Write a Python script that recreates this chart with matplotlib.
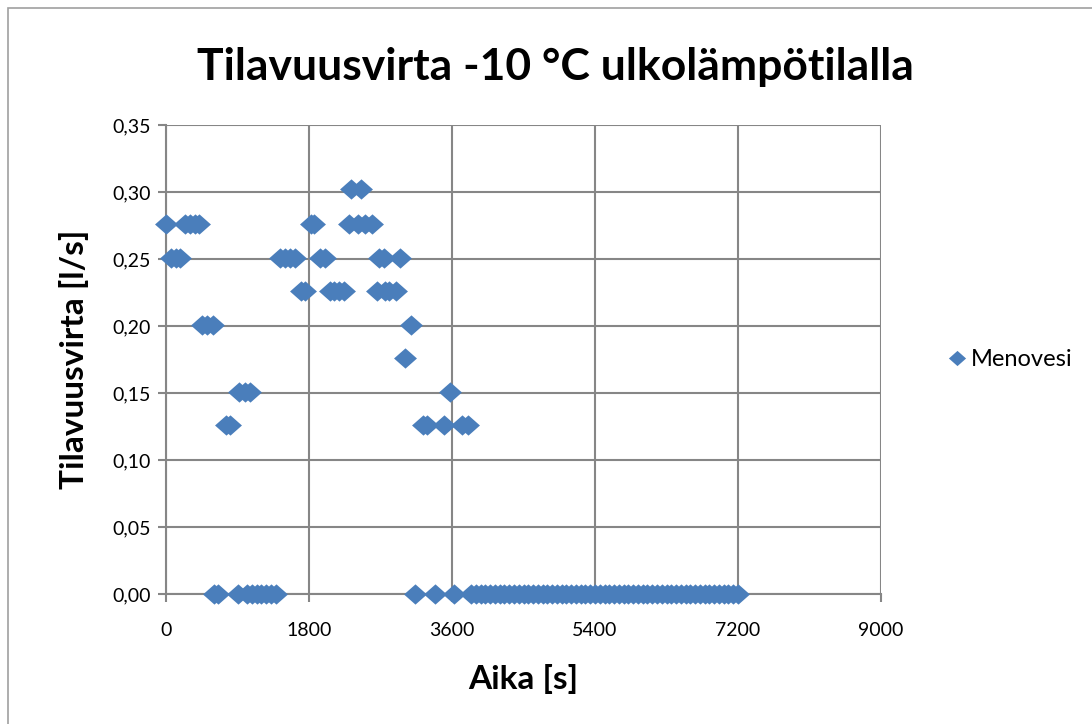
import matplotlib.pyplot as plt
from matplotlib.path import Path
from matplotlib.patches import Rectangle

plt.rcParams['font.family'] = ['Lato', 'DejaVu Sans']

# Mittausajat [s] ja menoveden tilavuusvirta [l/s]
aika = [
    0, 60, 120, 180, 240, 300, 360, 420,
    450, 520, 590, 600, 660, 750, 810, 900, 920, 990, 1060,
    1020, 1080, 1140, 1200, 1260, 1320, 1380,
    1440, 1500, 1560, 1620, 1700, 1750, 1820, 1860, 1940, 2000,
    2060, 2120, 2180, 2235, 2300, 2330, 2420, 2460, 2500, 2590,
    2660, 2680, 2750, 2760, 2810, 2890, 2940, 3010, 3080,
    3140, 3230, 3290, 3380, 3500, 3580, 3630, 3730, 3800,
    3840, 3900, 3960, 4020, 4080, 4140, 4200, 4260, 4320, 4380,
    4440, 4500, 4560, 4620, 4680, 4740, 4800, 4860, 4920, 4980,
    5040, 5100, 5160, 5220, 5280, 5340, 5400, 5460, 5520, 5580,
    5640, 5700, 5760, 5820, 5880, 5940, 6000, 6060, 6120, 6180,
    6240, 6300, 6360, 6420, 6480, 6540, 6600, 6660, 6720, 6780,
    6840, 6900, 6960, 7020, 7080, 7140, 7200,
]
virta = [
    0.276, 0.251, 0.251, 0.251, 0.276, 0.276, 0.276, 0.276,
    0.201, 0.201, 0.201, 0.0, 0.0, 0.126, 0.126, 0.0, 0.151, 0.151, 0.151,
    0.0, 0.0, 0.0, 0.0, 0.0, 0.0, 0.0,
    0.251, 0.251, 0.251, 0.251, 0.226, 0.226, 0.276, 0.276, 0.251, 0.251,
    0.226, 0.226, 0.226, 0.226, 0.276, 0.302, 0.276, 0.302, 0.276, 0.276,
    0.226, 0.251, 0.251, 0.226, 0.226, 0.226, 0.251, 0.176, 0.201,
    0.0, 0.126, 0.126, 0.0, 0.126, 0.151, 0.0, 0.126, 0.126,
    0.0, 0.0, 0.0, 0.0, 0.0, 0.0, 0.0, 0.0, 0.0, 0.0,
    0.0, 0.0, 0.0, 0.0, 0.0, 0.0, 0.0, 0.0, 0.0, 0.0,
    0.0, 0.0, 0.0, 0.0, 0.0, 0.0, 0.0, 0.0, 0.0, 0.0,
    0.0, 0.0, 0.0, 0.0, 0.0, 0.0, 0.0, 0.0, 0.0, 0.0,
    0.0, 0.0, 0.0, 0.0, 0.0, 0.0, 0.0, 0.0, 0.0, 0.0,
    0.0, 0.0, 0.0, 0.0, 0.0, 0.0, 0.0,
]

x_ticks = [0, 1800, 3600, 5400, 7200, 9000]
y_ticks = [0.0, 0.05, 0.10, 0.15, 0.20, 0.25, 0.30, 0.35]

sininen = '#4a7ebb'
harmaa = '#868686'

# vähän leveämpi kuin korkea vinoneliö
vinonelio = Path([(-1.13, 0), (0, 1), (1.13, 0), (0, -1), (-1.13, 0)],
                 [Path.MOVETO, Path.LINETO, Path.LINETO, Path.LINETO, Path.CLOSEPOLY])

fig = plt.figure(figsize=(10.92, 7.24), dpi=100)
ax = fig.add_axes([166 / 1092, 1 - 594 / 724, (881 - 166) / 1092, (594 - 125) / 724])

ax.plot(aika, virta, linestyle='none', marker=vinonelio, markersize=16.5,
        color=sininen, markeredgewidth=0, label='Menovesi', clip_on=False, zorder=3)

ax.set_xlim(0, 9000)
ax.set_ylim(0, 0.35)
ax.set_xticks(x_ticks)
ax.set_yticks(y_ticks)
ax.set_yticklabels([f'{v:.2f}'.replace('.', ',') for v in y_ticks])
ax.tick_params(labelsize=14, length=6, width=1.5, color=harmaa, direction='out', pad=5)
ax.tick_params(axis='x', pad=14)
ax.grid(True, color=harmaa, linewidth=1.5)
ax.set_axisbelow(True)
for s in ax.spines.values():
    s.set_visible(False)
ax.spines['left'].set_visible(True)
ax.spines['bottom'].set_visible(True)
ax.spines['left'].set_color(harmaa)
ax.spines['bottom'].set_color(harmaa)
ax.spines['left'].set_linewidth(1.5)
ax.spines['bottom'].set_linewidth(1.5)

fig.text(555 / 1092, 1 - 67 / 724, 'Tilavuusvirta -10 °C ulkolämpötilalla', fontsize=32,
         fontweight='bold', ha='center', va='center')
ax.set_xlabel('Aika [s]', fontsize=24, fontweight='bold', labelpad=18)
ax.set_ylabel('Tilavuusvirta [l/s]', fontsize=24, fontweight='bold', labelpad=17)

ax.legend(loc='center left', bbox_to_anchor=(1.06, 0.5), frameon=False, fontsize=17,
          handletextpad=0.1, markerscale=0.75, handlelength=1.0)

# kaavioalueen reunaviiva
fig.patches.append(Rectangle((8 / 1092, -0.01), 1.0, 1 - 8 / 724 + 0.01, transform=fig.transFigure,
                             fill=False, edgecolor='#a0a0a0', linewidth=1.2))

fig.savefig('out.png', dpi=100)
